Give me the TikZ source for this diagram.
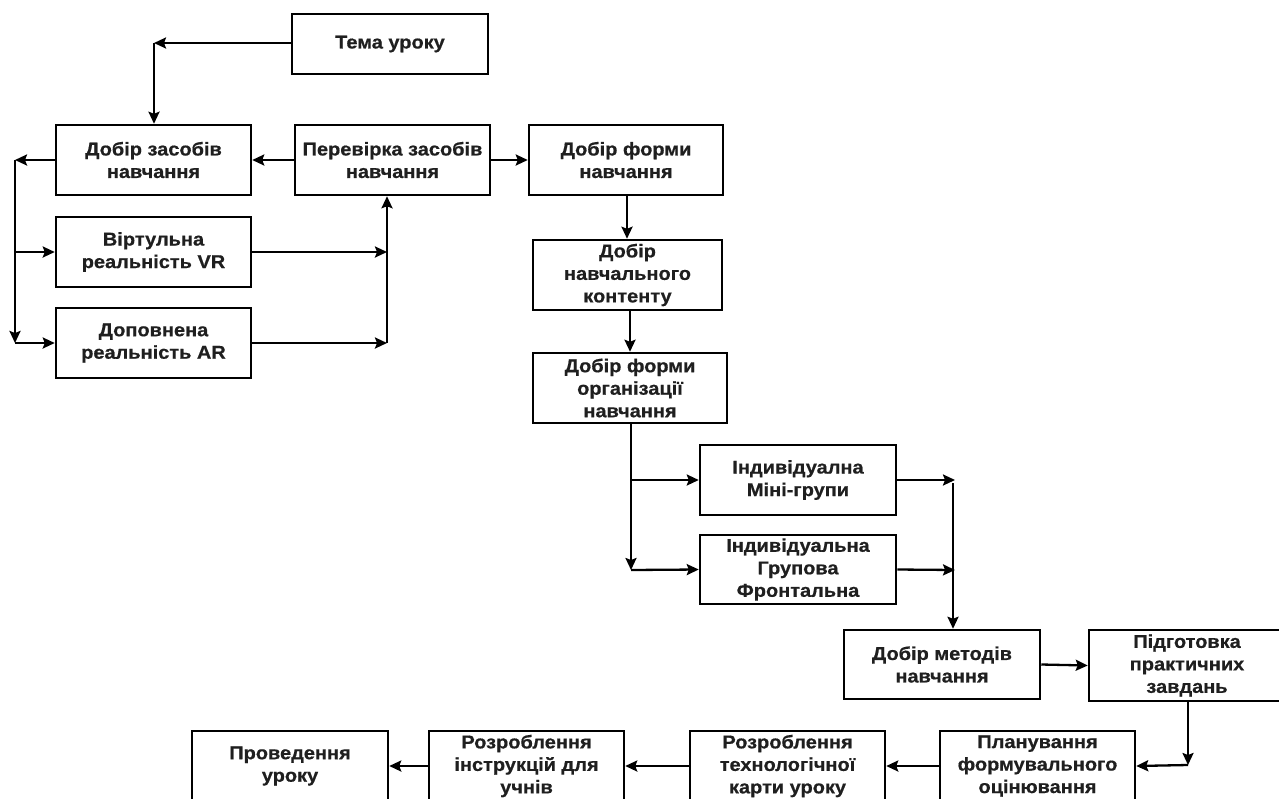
\documentclass[tikz,border=0pt]{standalone}
\usepackage{fontspec}
\setmainfont{Liberation Sans}
\newfontfamily\boxfont{Liberation Sans}[UprightFont={* Bold}, FakeStretch=1.08, FakeBold=0.6]
\usetikzlibrary{arrows.meta}
\tikzset{
  box/.style={draw=black, line width=2.5pt, rectangle, align=center, inner sep=0pt,
    font=\boxfont\fontsize{18.5}{22.5}\selectfont, text=black!88},
  arr/.style={line width=2.3pt, -{Stealth[length=12pt,width=11pt,inset=2pt]}},
}
\begin{document}
\begin{tikzpicture}[x=1pt,y=-1pt]
\clip (0,0) rectangle (1279,798);
\fill[white] (0,0) rectangle (1279,798);
% boxes
\node[box, minimum width=196pt, minimum height=60pt] (tema) at (390,44) {Тема уроку};
\node[box, minimum width=195pt, minimum height=70pt] (zasob) at (153.5,160) {Добір засобів\\навчання};
\node[box, minimum width=195pt, minimum height=70pt] (perev) at (392.5,160) {Перевірка засобів\\навчання};
\node[box, minimum width=194pt, minimum height=70pt] (forma) at (626,160) {Добір форми\\навчання};
\node[box, minimum width=195pt, minimum height=70pt] (vr) at (153.5,252) {Віртульна\\реальність VR};
\node[box, minimum width=195pt, minimum height=70pt] (ar) at (153.5,343) {Доповнена\\реальність AR};
\node[box, minimum width=189pt, minimum height=70pt] (kont) at (627.5,275) {Добір\\навчального\\контенту};
\node[box, minimum width=194pt, minimum height=70pt] (org) at (630,388) {Добір форми\\організації\\навчання};
\node[box, minimum width=196pt, minimum height=70pt] (mini) at (798,480) {Індивідуална\\Міні-групи};
\node[box, minimum width=196pt, minimum height=69pt] (grup) at (798,569.5) {Індивідуальна\\Групова\\Фронтальна};
\node[box, minimum width=196pt, minimum height=69pt] (metod) at (942,664.5) {Добір методів\\навчання};
\node[box, minimum width=196pt, minimum height=71pt] (pidg) at (1187,665.5) {Підготовка\\практичних\\завдань};
\node[box, minimum width=195pt, minimum height=70pt] (plan) at (1037.5,766) {Планування\\формувального\\оцінювання};
\node[box, minimum width=195pt, minimum height=70pt] (tech) at (787.5,766) {Розроблення\\технологічної\\карти уроку};
\node[box, minimum width=195pt, minimum height=70pt] (instr) at (526.5,766) {Розроблення\\інструкцій для\\учнів};
\node[box, minimum width=196pt, minimum height=70pt] (prov) at (290,766) {Проведення\\уроку};
% coordinates
\coordinate (t1) at (154,43);
\coordinate (lb1) at (15,160);
\coordinate (lb2) at (15,252);
\coordinate (lb3) at (15,343);
\coordinate (rb1) at (387,252);
\coordinate (rb2) at (387,343);
\coordinate (ob1) at (631,480);
\coordinate (ob2) at (631,570);
\coordinate (mb1) at (955,480);
\coordinate (mb2) at (955,570);
\coordinate (mv1) at (953,483);
\coordinate (pv1) at (1188,765);
% connectors
\draw[arr] (tema.west |- t1) -- (t1);
\draw[arr] (t1) -- (t1 |- zasob.north);
\draw[arr] (perev.west) -- (zasob.east);
\draw[arr] (perev.east) -- (forma.west);
\draw[arr] (zasob.west) -- (lb1);
\draw[arr] (lb1) -- (lb3);
\draw[arr] (lb2) -- (vr.west);
\draw[arr] (lb3) -- (ar.west);
\draw[arr] (vr.east) -- (rb1);
\draw[arr] (ar.east) -- (rb2);
\draw[arr] (rb2) -- (rb2 |- perev.south);
\draw[arr] (forma.south -| 627,0) -- (627,0 |- kont.north);
\draw[arr] (kont.south -| 630,0) -- (630,0 |- org.north);
\draw[arr] (org.south -| ob1) -- (ob2);
\draw[arr] (ob1) -- (mini.west);
\draw[arr] (ob2) -- (grup.west);
\draw[arr] (mini.east) -- (mb1);
\draw[arr] (grup.east) -- (mb2);
\draw[arr] (mv1) -- (mv1 |- metod.north);
\draw[arr] (metod.east) -- (pidg.west);
\draw[arr] (pidg.south -| pv1) -- (pv1);
\draw[arr] (pv1) -- (plan.east);
\draw[arr] (plan.west) -- (tech.east);
\draw[arr] (tech.west) -- (instr.east);
\draw[arr] (instr.west) -- (prov.east);
\end{tikzpicture}
\end{document}
